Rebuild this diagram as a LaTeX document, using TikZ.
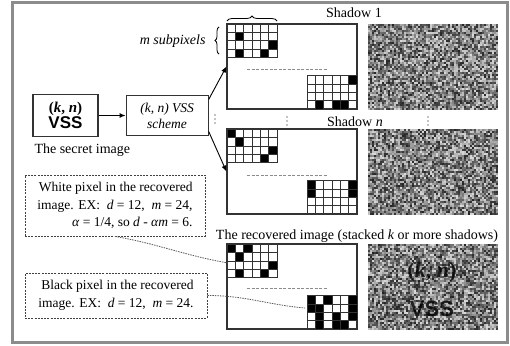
\documentclass[tikz,border=0pt]{standalone}
\usepackage{fontspec}
\setmainfont{Liberation Serif}
\newfontfamily\vssfont{Liberation Sans}
\usetikzlibrary{arrows.meta,positioning,decorations.pathreplacing}

% 6x4 block of subpixels, #3 = black cells row/col
\newcommand{\subgrid}[3]{%
  \foreach \row/\col in {#3}{
    \fill (#1+\col*8.33-8.33,#2+\row*8.4-8.4) rectangle ++(8.33,8.4);
  }
  \foreach \i in {0,...,6}{
    \draw[gridline] (#1+\i*8.33,#2) -- ++(0,33.6);
  }
  \foreach \j in {0,...,4}{
    \draw[gridline] (#1,#2+\j*8.4) -- ++(50,0);
  }
}
% random gray patch (a shadow)
\newcommand{\noisepatch}[2]{%
  \foreach \i in {0,...,64}{
    \foreach \j in {0,...,42}{
      \pgfmathrandominteger{\g}{15}{85}
      \fill[black!\g] (#1+\i*2,#2+\j*2) rectangle ++(2.05,2.05);
    }
  }
}

\begin{document}
\begin{tikzpicture}[x=1pt,y=-1pt,
  box/.style={draw=black!80,line width=1.1pt,align=center,font=\fontsize{14}{16}\selectfont},
  shbox/.style={draw=black!80,line width=1.1pt,minimum width=130,minimum height=85,inner sep=0},
  note/.style={draw=black!75,line width=0.8pt,dash pattern=on 2pt off 1.2pt,align=right,inner sep=0,font=\fontsize{13.5}{17.5}\selectfont},
  lbl/.style={font=\fontsize{14}{16}\selectfont},
  gridline/.style={black!80,line width=0.6pt},
  arr/.style={-{Latex[length=6pt,width=5pt]},line width=0.9pt},
  pointer/.style={black!65,line width=0.8pt,dash pattern=on 1.5pt off 1pt},
  midgap/.style={black!45,line width=0.8pt,dash pattern=on 3pt off 1.5pt}]
  \useasboundingbox (0,0) rectangle (510,345);
  \pgfmathsetseed{42}
  % frame
  \draw[black!45,line width=3pt] (12,3) rectangle (507.5,342);
  % secret image and scheme
  \node[box,minimum width=65,minimum height=42,inner sep=0] (secret) at (65.5,115.5)
    {{\fontsize{15}{17}\selectfont\bfseries(\textit{k}, \textit{n})}\\{\vssfont\fontsize{17}{19}\selectfont\bfseries VSS}};
  \node[lbl,anchor=west] (secretlbl) at (31,150) {The secret image};
  \node[box,minimum width=82,minimum height=40,inner sep=1pt,font=\itshape\fontsize{13.5}{16}\selectfont,
    right=27pt of secret] (scheme) {(\textit{k}, \textit{n}) VSS\\scheme};
  % shadows and recovered image
  \node[shbox] (shA) at (292,66.5) {};
  \node[shbox] (shN) at (292,171.5) {};
  \node[shbox] (rec) at (292,286.5) {};
  \subgrid{227}{24}{2/2,3/6,4/2,4/5}
  \subgrid{307}{75.4}{1/6,4/2,4/4,4/5}
  \subgrid{227}{129}{1/1,2/2,3/6,4/5}
  \subgrid{307}{180.4}{1/1,2/1,1/6,2/6}
  \subgrid{227}{244}{1/1,1/3,2/2,3/6,4/2,4/5}
  \subgrid{307}{295.4}{1/1,1/3,1/6,2/1,2/2,2/6,3/2,3/4,3/6,4/2,4/4,4/5}
  \draw[midgap] (247,69) -- (328,69);
  \draw[midgap] (247,175) -- (328,175);
  \draw[midgap] (247,288) -- (328,288);
  % shadow images
  \noisepatch{368}{24}
  \noisepatch{368}{129}
  \noisepatch{368}{244}
  \node[text opacity=0.8,font=\fontsize{22}{24}\selectfont\bfseries] (recA) at (432,272) {(\textit{k}, \textit{n})};
  \node[text opacity=0.8,font=\vssfont\fontsize{22}{24}\selectfont\bfseries] (recB) at (432,309) {VSS};
  % labels
  \node[lbl] (shAlbl) at (354,13) {Shadow 1};
  \node[lbl] (shNlbl) at (355,122) {Shadow \textit{n}};
  \node[lbl] (reclbl) at (357,236) {The recovered image (stacked \textit{k} or more shadows)};
  \draw[decorate,decoration={brace,amplitude=5pt},line width=0.8pt] (227,21) -- (277,21);
  \draw[decorate,decoration={brace,amplitude=4pt},line width=0.8pt] (219,54) -- (219,27);
  \node[lbl,font=\itshape\fontsize{14}{16}\selectfont,anchor=east] (msub) at (209,41) {m subpixels};
  % arrows
  \draw[arr] (secret) -- (scheme);
  \draw[arr] (scheme.21) -- (shA.west);
  \draw[arr] (scheme.-21) -- (shN.west);
  % vertical dots
  \foreach \x/\y in {215/119,287/121,428/121}{
    \foreach \d in {-4,0,4}{
      \fill (\x,\y+\d) circle (0.7);
    }
  }
  % notes
  \node[note,minimum width=180,minimum height=61] (whitepx) at (115,205.5)
    {White pixel in the recovered\\image. EX:~ \textit{d} = 12,~ \textit{m} = 24,\\\textit{α} = 1/4, so \textit{d} - \textit{αm} = 6.};
  \node[note,minimum width=182,minimum height=45] (blackpx) at (116,295.5)
    {Black pixel in the recovered\\image. EX:~ \textit{d} = 12,~ \textit{m} = 24.};
  \coordinate (wptr) at (228,263);
  \coordinate (bptr) at (305,308);
  \draw[pointer] (whitepx.south) to[out=-10,in=170] (wptr);
  \draw[pointer] (blackpx.east) to[out=0,in=175] (bptr);
\end{tikzpicture}
\end{document}
